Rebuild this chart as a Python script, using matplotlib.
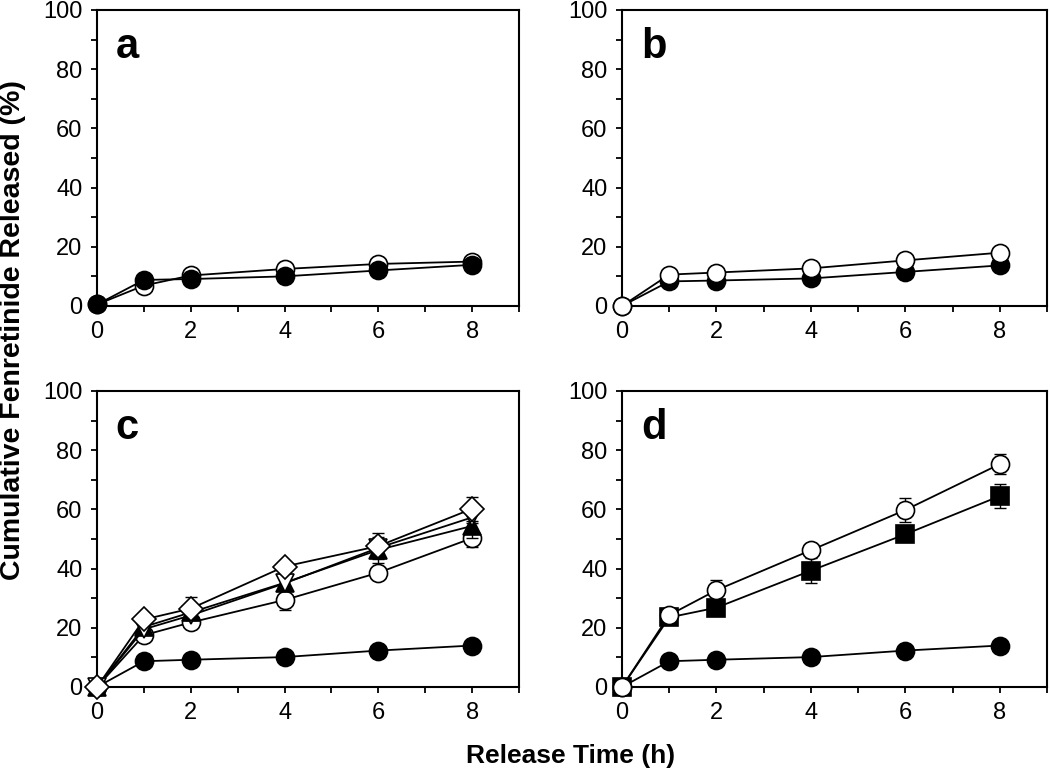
import matplotlib
matplotlib.use("Agg")
import matplotlib.pyplot as plt
from matplotlib.ticker import MultipleLocator

plt.rcParams['font.family'] = ['Liberation Sans', 'DejaVu Sans']

# release times (h)
time = [0, 1, 2, 4, 6, 8]

# panel a
a_open = [0.5, 6.9, 10.3, 12.5, 14.2, 15.0]
a_filled = [0.5, 8.8, 9.1, 10.0, 12.0, 13.9]

# panel b
b_filled = [0, 8.3, 8.6, 9.3, 11.5, 13.7]
b_open = [0, 10.6, 11.3, 12.7, 15.4, 18.0]

# control (filled circles) in panels c and d
control = [0, 8.7, 9.2, 10.1, 12.3, 14.0]

# panel c
c_circle = [0, 17.5, 21.8, 29.4, 38.6, 50.3]
c_circle_err = [0, 1.5, 1.5, 3.5, 1.5, 3.0]
c_tri_up = [0, 20.3, 25.2, 35.2, 46.3, 54.4]
c_tri_up_err = [0, 1.5, 2.0, 2.0, 4.5, 4.0]
c_tri_down = [0, 19.5, 24.2, 35.0, 47.0, 57.3]
c_tri_down_err = [0, 1.0, 1.5, 1.5, 2.0, 2.0]
c_diamond = [0, 22.8, 26.5, 40.7, 47.6, 60.2]
c_diamond_err = [0, 1.0, 4.0, 1.5, 4.5, 4.0]

# panel d
d_square = [0, 23.5, 26.8, 39.3, 51.6, 64.5]
d_square_err = [0, 1.0, 1.5, 4.3, 1.5, 4.0]
d_circle = [0, 24.3, 32.7, 46.2, 59.8, 75.3]
d_circle_err = [0, 1.0, 3.6, 2.0, 3.9, 3.3]


def series(ax, y, marker, face, z, err=None, ms=13):
    if err is not None:
        ax.errorbar(time, y, yerr=err, fmt='none', ecolor='black', elinewidth=1.0,
                    capsize=4.5, capthick=1.0, zorder=z - 0.5, clip_on=False)
    ax.plot(time, y, color='black', lw=1.3, marker=marker, ms=ms,
            markerfacecolor=face, markeredgecolor='black', markeredgewidth=1.2,
            zorder=z, clip_on=False)


def style(ax, letter):
    ax.set_xlim(0, 9)
    ax.set_ylim(0, 100)
    ax.xaxis.set_major_locator(MultipleLocator(2))
    ax.xaxis.set_minor_locator(MultipleLocator(1))
    ax.yaxis.set_major_locator(MultipleLocator(20))
    ax.yaxis.set_minor_locator(MultipleLocator(10))
    ax.tick_params(which='both', direction='out', length=4.5, width=1.3,
                   labelsize=17, pad=6, top=False, right=False)
    for s in ax.spines.values():
        s.set_linewidth(1.5)
    ax.text(0.4, 83.8, letter, fontsize=30, fontweight='bold', va='baseline')


fig = plt.figure(figsize=(10.5, 7.68), dpi=100)
ax_a = fig.add_axes([0.0924, 0.6016, 0.4019, 0.3854])
ax_b = fig.add_axes([0.5924, 0.6016, 0.4048, 0.3854])
ax_c = fig.add_axes([0.0924, 0.1055, 0.4019, 0.3854])
ax_d = fig.add_axes([0.5924, 0.1055, 0.4048, 0.3854])

series(ax_a, a_open, 'o', 'white', 3)
series(ax_a, a_filled, 'o', 'black', 4)

series(ax_b, b_filled, 'o', 'black', 3)
series(ax_b, b_open, 'o', 'white', 4)

series(ax_c, control, 'o', 'black', 3)
series(ax_c, c_circle, 'o', 'white', 4, c_circle_err)
series(ax_c, c_tri_up, '^', 'black', 5, c_tri_up_err, ms=13.5)
series(ax_c, c_tri_down, 'v', 'white', 6, c_tri_down_err, ms=13.5)
series(ax_c, c_diamond, 'D', 'white', 7, c_diamond_err, ms=12)

series(ax_d, control, 'o', 'black', 3)
series(ax_d, d_square, 's', 'black', 4, d_square_err, ms=12.5)
series(ax_d, d_circle, 'o', 'white', 5, d_circle_err)

for ax, letter in zip([ax_a, ax_b, ax_c, ax_d], 'abcd'):
    style(ax, letter)

fig.text(0.012, 0.57, 'Cumulative Fenretinide Released (%)', rotation=90,
         fontsize=20.5, fontweight='bold', ha='center', va='center')
fig.text(0.543, 0.0156, 'Release Time (h)', fontsize=19, fontweight='bold',
         ha='center', va='center')

fig.savefig('out.png', dpi=100)
